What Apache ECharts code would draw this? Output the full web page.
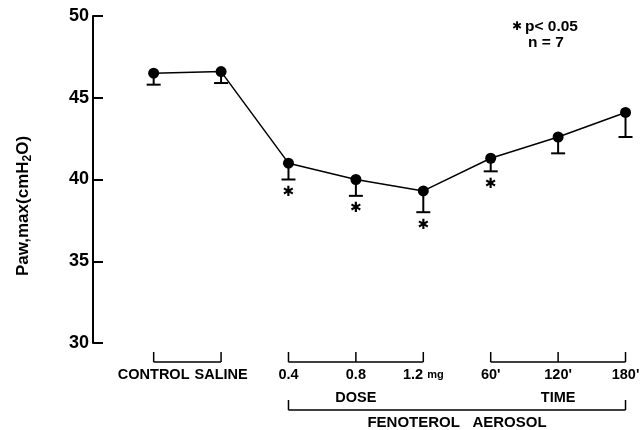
<!DOCTYPE html>
<html>
<head>
<meta charset="utf-8">
<script src="https://cdn.jsdelivr.net/npm/echarts@6/dist/echarts.min.js"></script>
<style>
  html, body { margin: 0; padding: 0; background: #fff; }
  #chart { width: 641px; height: 430px; }
</style>
</head>
<body>
<div id="chart"></div>
<script>
// data
const categories = ['CONTROL', 'SALINE', '0.4', '0.8', '1.2', "60'", "120'", "180'"];
const meanValues = [46.5, 46.6, 41.0, 40.0, 39.3, 41.3, 42.6, 44.1];
const lowerValues = [45.8, 45.9, 40.0, 39.0, 38.0, 40.5, 41.6, 42.6];
const significant = [0, 0, 1, 1, 1, 1, 0, 0];
const yTicks = [30, 35, 40, 45, 50];

// bracket groups under the axis (category indices)
const smallBrackets = [[0, 1], [2, 3, 4], [5, 6, 7]];
const groupLabels = [{ text: 'DOSE', at: 3 }, { text: 'TIME', at: 6 }];
const bigBracket = { from: 2, to: 7, text: 'FENOTEROL   AEROSOL' };

const FONT = '"Liberation Sans", Arial, sans-serif';
const chart = echarts.init(document.getElementById('chart'));

const option = {
  animation: false,
  backgroundColor: '#fff',
  grid: { left: 93, right: 2, top: 16, bottom: 87 },
  xAxis: {
    type: 'value',
    min: -0.9,
    max: 7.2,
    show: false
  },
  yAxis: {
    type: 'value',
    min: yTicks[0],
    max: yTicks[yTicks.length - 1],
    interval: 5,
    axisLine: { show: true, onZero: false, lineStyle: { color: '#000', width: 2 } },
    axisTick: { show: true, inside: true, length: 10, lineStyle: { color: '#000', width: 2 } },
    splitLine: { show: false },
    axisLabel: { color: '#000', fontFamily: FONT, fontWeight: 'bold', fontSize: 18, margin: 4 }
  },
  series: [
    {
      type: 'custom',
      z: 1,
      data: categories.map((c, i) => [i, meanValues[i], lowerValues[i], significant[i]]),
      renderItem: (params, api) => {
        const top = api.coord([api.value(0), api.value(1)]);
        const bot = api.coord([api.value(0), api.value(2)]);
        const children = [
          { type: 'line', shape: { x1: top[0], y1: top[1], x2: bot[0], y2: bot[1] }, style: { stroke: '#000', lineWidth: 2 } },
          { type: 'line', shape: { x1: bot[0] - 7, y1: bot[1], x2: bot[0] + 7, y2: bot[1] }, style: { stroke: '#000', lineWidth: 2 } }
        ];
        if (api.value(3)) {
          children.push({
            type: 'text',
            style: { text: '\u2731', x: bot[0], y: bot[1] + 13, fontSize: 14, fontFamily: 'DejaVu Sans', fill: '#000', align: 'center', verticalAlign: 'middle' }
          });
        }
        return { type: 'group', children };
      }
    },
    {
      type: 'line',
      z: 2,
      data: meanValues.map((v, i) => [i, v]),
      symbol: 'circle',
      symbolSize: 11,
      itemStyle: { color: '#000' },
      lineStyle: { color: '#000', width: 1.5 }
    }
  ]
};

chart.setOption(option);

// annotations below the plot, placed from the x scale
const px = (i) => chart.convertToPixel({ gridIndex: 0 }, [i, 30])[0];
const seg = (x1, y1, x2, y2) => ({ type: 'line', shape: { x1, y1, x2, y2 }, style: { stroke: '#000', lineWidth: 1.5 } });
const txt = (text, x, y, extra) => ({
  type: 'text',
  style: Object.assign({ text, x, y, fill: '#000', fontFamily: FONT, fontWeight: 'bold', fontSize: 14.5, align: 'center', verticalAlign: 'middle' }, extra || {})
});

const graphics = [];
smallBrackets.forEach((g) => {
  const x0 = px(g[0]), x1 = px(g[g.length - 1]);
  graphics.push(seg(x0, 362, x1, 362));
  g.forEach((i) => graphics.push(seg(px(i), 352, px(i), 362)));
});
categories.forEach((c, i) => {
  if (c === '1.2') {
    graphics.push({
      type: 'text',
      style: {
        text: '{a|1.2 }{b|mg}', x: px(i), y: 375, align: 'center', verticalAlign: 'middle',
        rich: {
          a: { fontFamily: FONT, fontWeight: 'bold', fontSize: 14.5, fill: '#000' },
          b: { fontFamily: FONT, fontWeight: 'bold', fontSize: 11, fill: '#000' }
        }
      }
    });
  } else {
    graphics.push(txt(c, px(i), 375));
  }
});
groupLabels.forEach((g) => graphics.push(txt(g.text, px(g.at), 398)));
graphics.push(seg(px(bigBracket.from), 410, px(bigBracket.to), 410));
graphics.push(seg(px(bigBracket.from), 400, px(bigBracket.from), 410));
graphics.push(seg(px(bigBracket.to), 400, px(bigBracket.to), 410));
graphics.push(txt(bigBracket.text, (px(bigBracket.from) + px(bigBracket.to)) / 2, 423, { fontSize: 15 }));

// y axis title, rotated, with subscript
graphics.push({
  type: 'text',
  x: 23, y: 206, rotation: Math.PI / 2,
  style: {
    text: '{a|Paw,max(cmH}{s|2}{a|O)}', align: 'center', verticalAlign: 'middle',
    rich: {
      a: { fontFamily: FONT, fontWeight: 'bold', fontSize: 17, fill: '#000', lineHeight: 22, verticalAlign: 'middle' },
      s: { fontFamily: FONT, fontWeight: 'bold', fontSize: 12, fill: '#000', lineHeight: 22, verticalAlign: 'bottom', padding: [7, 0, 0, 0] }
    }
  }
});

// significance note
graphics.push({
  type: 'text',
  style: { text: '\u2731', x: 517, y: 27, fontSize: 12, fontFamily: 'DejaVu Sans', fill: '#000', align: 'center', verticalAlign: 'middle' }
});
graphics.push(txt('p< 0.05', 525, 27, { align: 'left', fontSize: 15.5 }));
graphics.push(txt('n = 7', 528, 43, { align: 'left', fontSize: 15.5 }));

chart.setOption({ graphic: graphics });

window.addEventListener('resize', () => chart.resize());
</script>
</body>
</html>
